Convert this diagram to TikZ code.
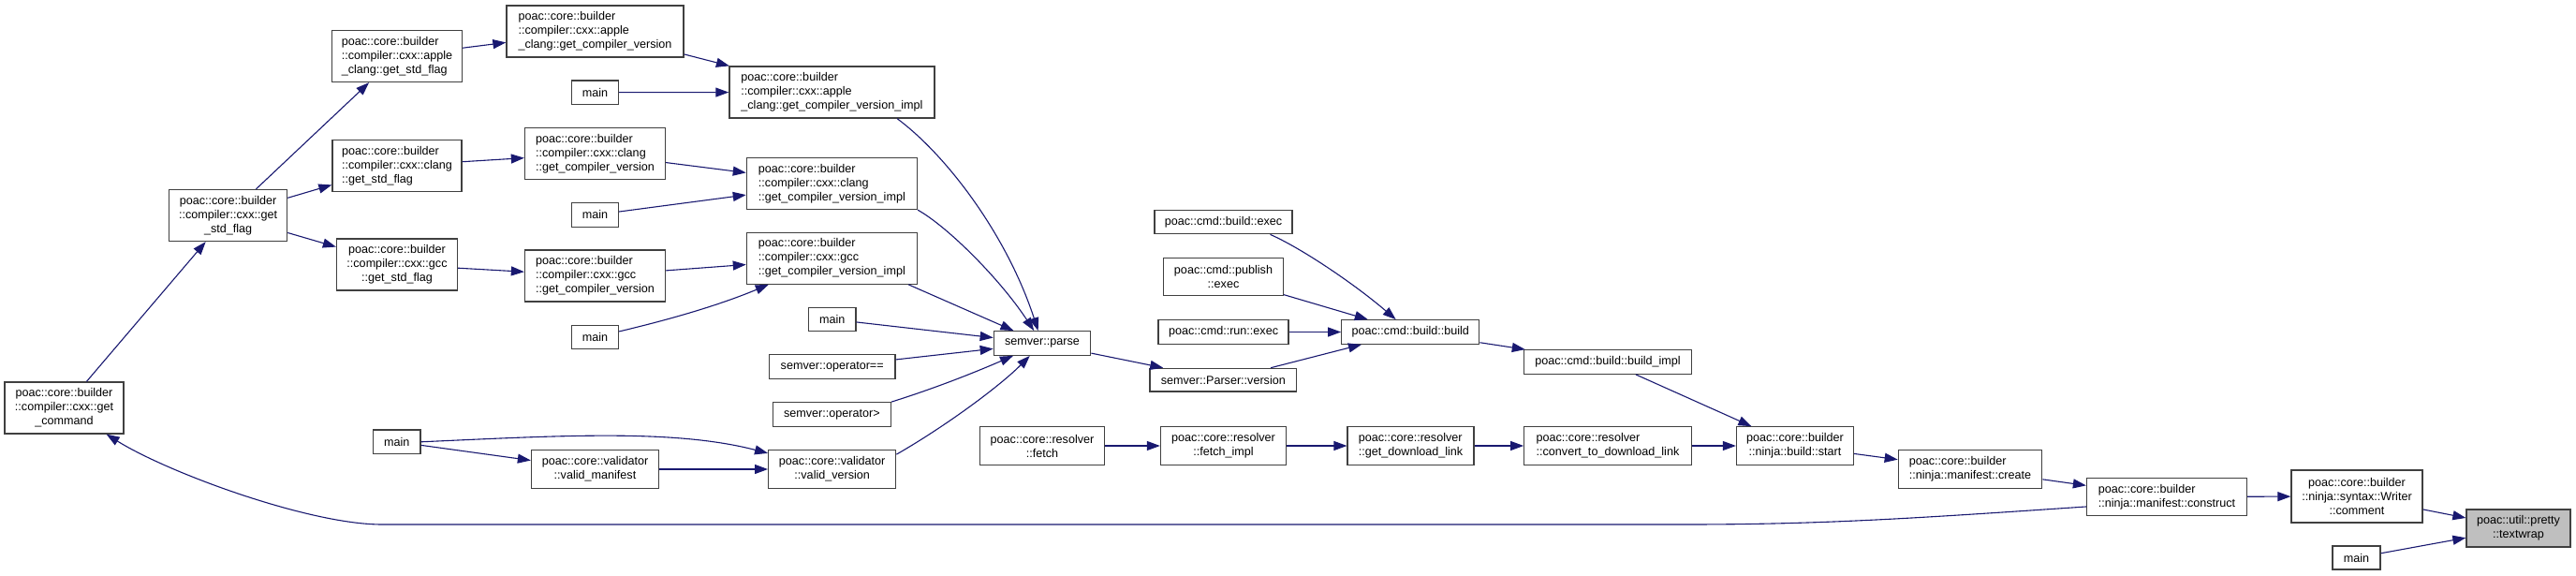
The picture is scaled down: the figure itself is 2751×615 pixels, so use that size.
\documentclass[tikz,border=0pt]{standalone}
\usepackage{fontspec}
\setmainfont{Liberation Sans}
\usetikzlibrary{arrows.meta}
\definecolor{mblue}{HTML}{191970}
\definecolor{grey25}{HTML}{404040}
\definecolor{grey75}{HTML}{BFBFBF}
\tikzset{
  box/.style={draw=grey25, line width=1.3pt, fill=white, rectangle, inner xsep=10pt, inner ysep=3pt,
    font=\fontsize{12.6}{15}\selectfont, align=center},
  lbox/.style={box, align=left},
  one/.style={minimum height=25.5pt},
  two/.style={minimum height=40.4pt},
  three/.style={minimum height=55pt},
  edge/.style={draw=mblue, line width=1.1pt, -{Triangle[length=14pt,width=10pt]}},
}
\begin{document}
\begin{tikzpicture}[x=1pt,y=-1pt]
\useasboundingbox (0,0) rectangle (2751,615);
% left part
\node[box,three,minimum width=127pt] (gc) at (68.5,435.5) {poac::core::builder\\::compiler::cxx::get\\\_command};
\node[box,three,minimum width=126pt] (gsf) at (243.6,230) {poac::core::builder\\::compiler::cxx::get\\\_std\_flag};
\node[lbox,three,minimum width=138pt] (agsf) at (424,60) {poac::core::builder\\::compiler::cxx::apple\\\_clang::get\_std\_flag};
\node[lbox,three,minimum width=138pt] (cgsf) at (424,177) {poac::core::builder\\::compiler::cxx::clang\\::get\_std\_flag};
\node[box,three,minimum width=129pt] (ggsf) at (424,282.5) {poac::core::builder\\::compiler::cxx::gcc\\::get\_std\_flag};
\node[lbox,three,minimum width=189pt] (agcv) at (635.5,33.5) {poac::core::builder\\::compiler::cxx::apple\\\_clang::get\_compiler\_version};
\node[box,one,minimum width=50pt] (m1) at (635.5,98.7) {main};
\node[lbox,three,minimum width=219pt] (aimpl) at (888.4,98.5) {poac::core::builder\\::compiler::cxx::apple\\\_clang::get\_compiler\_version\_impl};
\node[lbox,three,minimum width=150pt] (cgcv) at (635.5,164) {poac::core::builder\\::compiler::cxx::clang\\::get\_compiler\_version};
\node[box,one,minimum width=50pt] (m2) at (635.5,229.4) {main};
\node[lbox,three,minimum width=182pt] (cimpl) at (888.4,196) {poac::core::builder\\::compiler::cxx::clang\\::get\_compiler\_version\_impl};
\node[lbox,three,minimum width=150pt] (ggcv) at (635.5,294.5) {poac::core::builder\\::compiler::cxx::gcc\\::get\_compiler\_version};
\node[lbox,three,minimum width=182pt] (gimpl) at (888.4,275.7) {poac::core::builder\\::compiler::cxx::gcc\\::get\_compiler\_version\_impl};
\node[box,one,minimum width=50pt] (m3) at (635.5,360) {main};
\node[box,one,minimum width=50.5pt] (m4) at (888.7,341) {main};
\node[box,one,minimum width=134.6pt] (opeq) at (888.7,391.5) {semver::operator==};
\node[box,one,minimum width=126pt] (opgt) at (888.4,442.5) {semver::operator>};
\node[box,one,minimum width=50.4pt] (m5) at (423.8,471.8) {main};
\node[box,two,minimum width=136pt] (vm) at (635.5,501) {poac::core::validator\\::valid\_manifest};
\node[box,two,minimum width=136pt] (vv) at (888.7,501) {poac::core::validator\\::valid\_version};
% middle part
\node[box,one,minimum width=103.4pt] (parse) at (1113,366.5) {semver::parse};
\node[box,one,minimum width=147pt] (bexec) at (1306.5,237) {poac::cmd::build::exec};
\node[box,two,minimum width=127.5pt,minimum height=40pt] (pexec) at (1306.5,295.7) {poac::cmd::publish\\::exec};
\node[box,one,minimum width=139pt] (rexec) at (1306.6,354.5) {poac::cmd::run::exec};
\node[box,one,minimum width=156.7pt,minimum height=24.7pt] (pver) at (1306.3,405.7) {semver::Parser::version};
\node[box,one,minimum width=147pt] (bb) at (1506.3,354.5) {poac::cmd::build::build};
\node[box,one,minimum width=178.5pt] (bimpl) at (1717,386.5) {poac::cmd::build::build\_impl};
\node[box,two,minimum width=133pt] (rf) at (1113,476) {poac::core::resolver\\::fetch};
\node[box,two,minimum width=134pt] (rfi) at (1306.5,476) {poac::core::resolver\\::fetch\_impl};
\node[lbox,two,minimum width=135pt] (rgdl) at (1506.6,476) {poac::core::resolver\\::get\_download\_link};
\node[lbox,two,minimum width=178.5pt] (rconv) at (1717,476) {poac::core::resolver\\::convert\_to\_download\_link};
% right part
\node[box,two,minimum width=125pt] (bstart) at (1917,476) {poac::core::builder\\::ninja::build::start};
\node[lbox,two,minimum width=153.4pt] (create) at (2104,501) {poac::core::builder\\::ninja::manifest::create};
\node[lbox,two,minimum width=171pt] (construct) at (2314,530.4) {poac::core::builder\\::ninja::manifest::construct};
\node[box,three,minimum width=140pt,minimum height=56pt] (comment) at (2517,530) {poac::core::builder\\::ninja::syntax::Writer\\::comment};
\node[box,two,minimum width=111pt,minimum height=40pt,fill=grey75] (textwrap) at (2689.5,564) {poac::util::pretty\\::textwrap};
\node[box,one,minimum width=51pt,minimum height=25pt] (m6) at (2516.5,595.5) {main};

% edges
\draw[edge] (gc) -- (gsf);
\draw[edge] (gsf) -- (agsf);
\draw[edge] (gsf) -- (cgsf);
\draw[edge] (gsf) -- (ggsf);
\draw[edge] (agsf) -- (agcv);
\draw[edge] (agcv) -- (aimpl);
\draw[edge] (m1) -- (aimpl);
\draw[edge] (cgsf) -- (cgcv);
\draw[edge] (cgcv) -- (cimpl);
\draw[edge] (m2) -- (cimpl);
\draw[edge] (ggsf) -- (ggcv);
\draw[edge] (ggcv) -- (gimpl);
\draw[edge] (m3) .. controls (720,340) and (770,325) .. (gimpl);
\draw[edge] (aimpl.-22) .. controls (1010,165) and (1075,250) .. (parse);
\draw[edge] (cimpl.south east) .. controls (1012,242) and (1068,298) .. (parse);
\draw[edge] (gimpl.-19) -- (parse);
\draw[edge] (m4) -- (parse);
\draw[edge] (opeq) -- (parse);
\draw[edge] (opgt.north east) .. controls (1000,414) and (1040,398) .. (parse);
\draw[edge] (vv.13) .. controls (1010,455) and (1068,412) .. (parse);
\draw[edge] (m5.east) .. controls (600,465) and (720,458) .. (vv.166);
\draw[edge] (m5) -- (vm);
\draw[edge] (vm) -- (vv);
\draw[edge] (parse) -- (pver);
\draw[edge] (pver) -- (bb);
\draw[edge] (bexec.-15) .. controls (1388,264) and (1445,302) .. (bb);
\draw[edge] (pexec) -- (bb);
\draw[edge] (rexec) -- (bb);
\draw[edge] (bb) -- (bimpl);
\draw[edge] (bimpl) -- (bstart);
\draw[edge] (rf) -- (rfi);
\draw[edge] (rfi) -- (rgdl);
\draw[edge] (rgdl) -- (rconv);
\draw[edge] (rconv) -- (bstart);
\draw[edge] (bstart) -- (create);
\draw[edge] (create) -- (construct);
\draw[edge] (construct) -- (comment);
\draw[edge] (construct.187) .. controls (2050,553) and (1950,560) .. (1800,560) -- (408,560) .. controls (330,560) and (180,505) .. (gc);
\draw[edge] (comment) -- (textwrap);
\draw[edge] (m6) -- (textwrap);
\end{tikzpicture}
\end{document}
